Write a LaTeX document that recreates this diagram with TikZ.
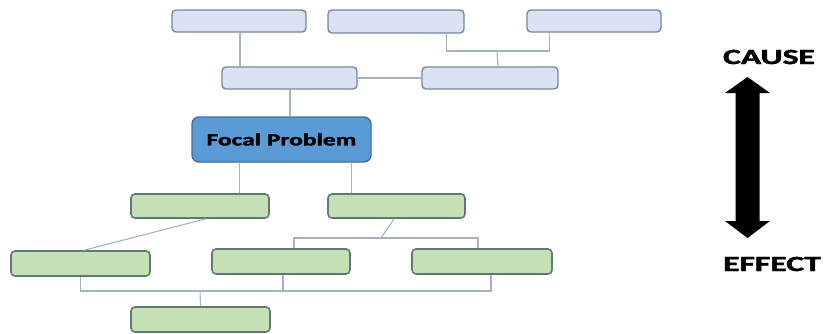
\documentclass[tikz,border=0pt]{standalone}
\usepackage{fontspec}
\setmainfont{Carlito}[BoldFeatures={FakeBold=1.6}]
\usetikzlibrary{calc}
\definecolor{bluefill}{HTML}{DAE3F3}
\definecolor{blueline}{HTML}{7686A0}
\definecolor{greenfill}{HTML}{C5E0B4}
\definecolor{greenline}{HTML}{5F7A70}
\definecolor{focalfill}{HTML}{5B9BD5}
\definecolor{focalline}{HTML}{41719C}
\definecolor{conn}{HTML}{A3B3C3}
\tikzset{
  bluebox/.style={draw=blueline, fill=bluefill, line width=1.4bp, rounded corners=4bp,
    minimum width=135bp, minimum height=22bp, inner sep=0pt},
  greenbox/.style={draw=greenline, fill=greenfill, line width=1.6bp, rounded corners=4bp,
    minimum width=138bp, minimum height=24bp, inner sep=0pt},
  focalbox/.style={draw=focalline, fill=focalfill, line width=1.4bp, rounded corners=7bp,
    minimum width=179bp, minimum height=45bp, inner sep=0pt,
    font=\fontsize{17bp}{20bp}\selectfont\bfseries},
  link/.style={draw=conn, line width=1.1bp},
  bigword/.style={inner sep=0pt, font=\fontsize{21.7bp}{24bp}\selectfont\bfseries}
}
\begin{document}
\begin{tikzpicture}[x=1bp, y=-1bp]
\useasboundingbox (0,0) rectangle (825,333);
% blue (cause) boxes
\node[bluebox, minimum width=134bp] (T1) at (239,21) {};
\node[bluebox, minimum width=136bp, minimum height=23bp] (T2) at (396,21.5) {};
\node[bluebox, minimum width=134bp] (T3) at (594,21) {};
\node[bluebox] (M1) at (289.5,78) {};
\node[bluebox, minimum width=136bp] (M2) at (490,78) {};
% focal
\node[focalbox] (F) at (281.5,139.5) {\scalebox{1.5}[1]{Focal Problem}};
% green (effect) boxes
\node[greenbox] (G1) at (200,206) {};
\node[greenbox, minimum width=137bp] (G2) at (396.5,206) {};
\node[greenbox, minimum width=139bp, minimum height=25bp] (G3) at (80.5,263.5) {};
\node[greenbox, minimum height=25bp] (G4) at (281,261.5) {};
\node[greenbox, minimum width=140bp, minimum height=25bp] (G5) at (482,261.5) {};
\node[greenbox, minimum width=139bp, minimum height=25bp] (G6) at (200.5,319.5) {};
% junction points
\coordinate (j1) at (497,51);
\coordinate (j2) at (381,238);
\coordinate (j3) at (200,291);
% connectors (upper)
\draw[link] ([xshift=1bp]T1.south) -- ([xshift=1bp]T1.south |- M1.north);
\draw[link] ([xshift=0.5bp]M1.south) -- ([xshift=0.5bp]M1.south |- F.north);
\draw[link] (M1.east) -- (M2.west);
\draw[link] ([xshift=-18bp]T2.south east) |- (j1) -| ([xshift=23bp]T3.south west);
\draw[link] (j1) -- ([xshift=1bp]j1 |- M2.north);
% connectors (lower)
\draw[link] ([xshift=48bp]F.south west) -- ([xshift=48bp]F.south west |- G1.north);
\draw[link] ([xshift=-20bp]F.south east) -- ([xshift=-20bp]F.south east |- G2.north);
\draw[link] ([xshift=6bp]G1.south) -- ([xshift=3.5bp]G3.north);
\draw[link] ([xshift=-2.5bp]G2.south) -- (j2);
\draw[link] ([xshift=13bp]G4.north) |- (j2) -| ([xshift=-4bp]G5.north);
\draw[link] (G3.south) |- (j3) -| ([xshift=9bp]G5.south);
\draw[link] ([xshift=2bp]G4.south) -- ([xshift=2bp]G4.south |- j3);
\draw[link] (j3) -- (G6.north);
% cause / effect
\node[bigword] (cause) at (769,57) {\scalebox{1.55}[1]{CAUSE}};
\node[bigword] (effect) at (772,264) {\scalebox{1.55}[1]{EFFECT}};
\fill[black] (747.5,77) -- (770,93) -- (759.5,93) -- (759.5,221) -- (770,221)
  -- (747.5,238) -- (725,221) -- (735.5,221) -- (735.5,93) -- (725,93) -- cycle;
\end{tikzpicture}
\end{document}
